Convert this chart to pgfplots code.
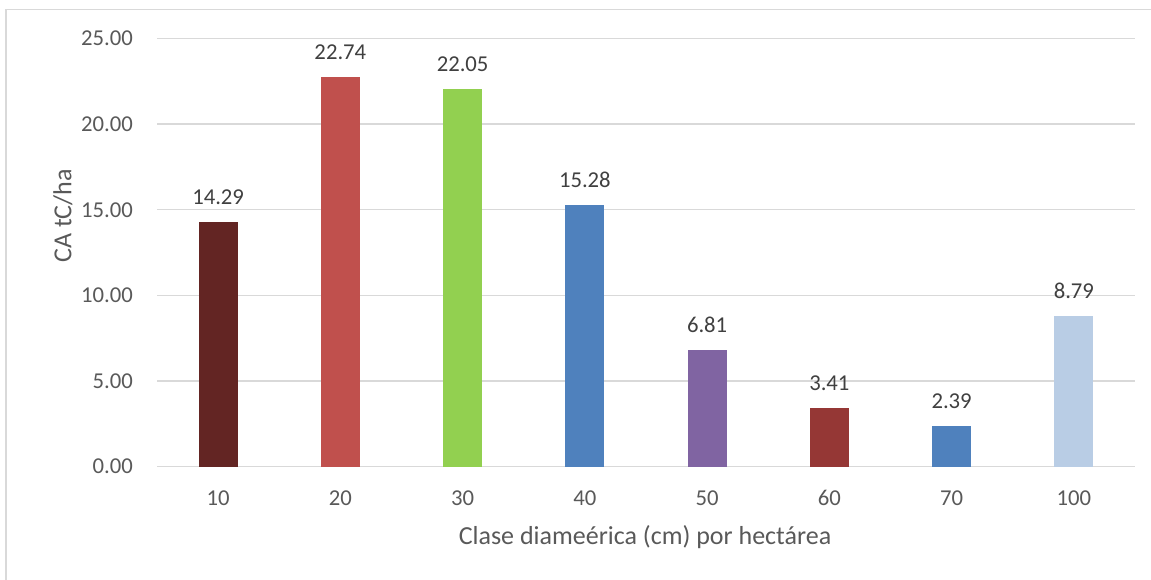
\documentclass[border=0pt]{standalone}
\usepackage{pgfplots}
\pgfplotsset{compat=1.18}
\usepackage{fontspec}
\setmainfont{Carlito}

\definecolor{gridgray}{HTML}{D9D9D9}
\definecolor{ticktext}{HTML}{595959}
\definecolor{labeltext}{HTML}{404040}
\definecolor{cDarkRed}{HTML}{632523}
\definecolor{cRed}{HTML}{C0504D}
\definecolor{cGreen}{HTML}{92D050}
\definecolor{cBlue}{HTML}{4F81BD}
\definecolor{cPurple}{HTML}{8064A2}
\definecolor{cBrick}{HTML}{953735}
\definecolor{cLightBlue}{HTML}{B9CDE5}

\begin{document}
\begin{tikzpicture}
  \begin{axis}[
    name=ax,
    at={(157pt,113.3pt)}, anchor=south west,
    scale only axis, width=978pt, height=428.2pt,
    xmin=-0.5, xmax=7.5, ymin=0, ymax=25,
    xtick={0,...,7},
    xticklabels={10,20,30,40,50,60,70,100},
    ytick={0,5,...,25},
    ymajorgrids,
    major grid style={gridgray, line width=1.3pt},
    axis line style={draw=none},
    tick style={draw=none},
    /pgf/number format/assume math mode=true,
    yticklabel={\pgfmathprintnumber[fixed,precision=2,zerofill]{\tick}},
    yticklabel style={anchor=east, inner sep=0pt, xshift=-24pt,
      font=\fontsize{22.7pt}{26pt}\selectfont, text=ticktext},
    xticklabel style={anchor=base, inner sep=0pt, yshift=-38.5pt,
      font=\fontsize{22.7pt}{26pt}\selectfont, text=ticktext},
    nodes near coords={\pgfmathprintnumber[fixed,precision=2,zerofill]{\pgfplotspointmeta}},
    every node near coord/.append style={anchor=base, inner sep=0pt, yshift=17.5pt,
      font=\fontsize{22.7pt}{26pt}\selectfont, text=labeltext},
    clip=false,
  ]
    \addplot[ybar, bar width=39pt, bar shift=0pt, fill=cDarkRed, draw=none] coordinates {(0,14.29)};
    \addplot[ybar, bar width=39pt, bar shift=0pt, fill=cRed, draw=none] coordinates {(1,22.74)};
    \addplot[ybar, bar width=39pt, bar shift=0pt, fill=cGreen, draw=none] coordinates {(2,22.05)};
    \addplot[ybar, bar width=39pt, bar shift=0pt, fill=cBlue, draw=none] coordinates {(3,15.28)};
    \addplot[ybar, bar width=39pt, bar shift=0pt, fill=cPurple, draw=none] coordinates {(4,6.81)};
    \addplot[ybar, bar width=39pt, bar shift=0pt, fill=cBrick, draw=none] coordinates {(5,3.41)};
    \addplot[ybar, bar width=39pt, bar shift=0pt, fill=cBlue, draw=none] coordinates {(6,2.39)};
    \addplot[ybar, bar width=39pt, bar shift=0pt, fill=cLightBlue, draw=none] coordinates {(7,8.79)};
  \end{axis}

  % page area, placed relative to the plot box, and the outer frame
  \path[use as bounding box] ([shift={(-157pt,-113.3pt)}]ax.south west)
    rectangle ([shift={(994pt,466.7pt)}]ax.south west);
  \begin{scope}
    \clip ([shift={(-157pt,-113.3pt)}]ax.south west)
      rectangle ([shift={(994pt,466.7pt)}]ax.south west);
    \draw[gridgray, line width=1.3pt]
      ([shift={(-151pt,-140pt)}]ax.south west) --
      ([shift={(-151pt,457.2pt)}]ax.south west) --
      ([shift={(1020pt,457.2pt)}]ax.south west);
  \end{scope}

  % axis titles
  \node[text=ticktext, font=\fontsize{26pt}{30pt}\selectfont, anchor=base]
    at ([shift={(488pt,-78.3pt)}]ax.south west) {Clase diameérica (cm) por hectárea};
  \node[text=ticktext, font=\fontsize{26pt}{30pt}\selectfont, rotate=90, inner sep=0pt]
    at ([shift={(-94pt,250.7pt)}]ax.south west) {CA tC/ha};
\end{tikzpicture}
\end{document}
